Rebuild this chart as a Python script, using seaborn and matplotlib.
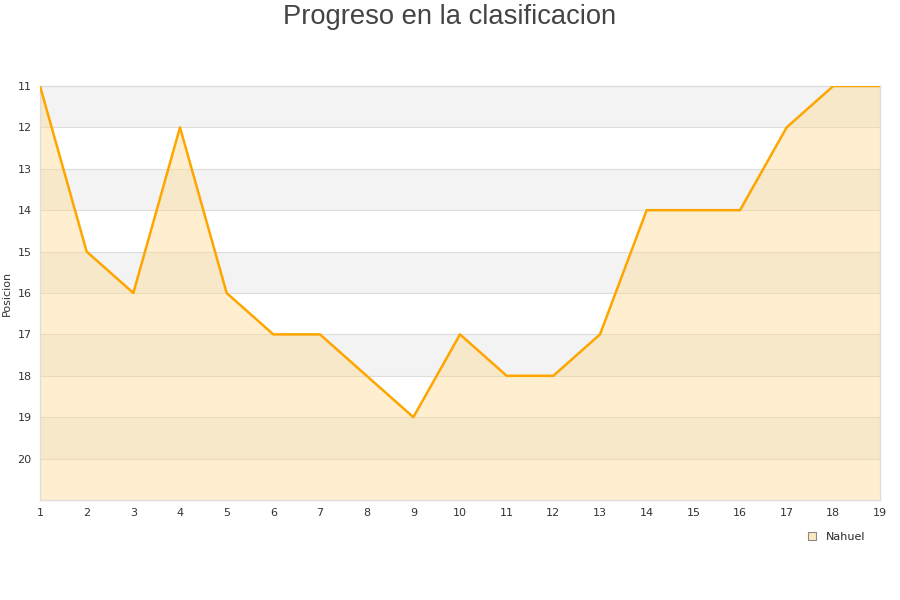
import matplotlib
matplotlib.use("Agg")
import matplotlib.pyplot as plt
import seaborn as sns
import pandas as pd
from matplotlib.lines import Line2D

jornadas = list(range(1, 20))
posiciones = [11, 15, 16, 12, 16, 17, 17, 18, 19, 17, 18, 18, 17, 14, 14, 14, 12, 11, 11]
serie = "Nahuel"
yticks = list(range(11, 21))

sns.set_theme(style="white")
plt.rcParams['font.family'] = ['DejaVu Sans']

df = pd.DataFrame({"Jornada": jornadas, "Posicion": posiciones})

fig = plt.figure(figsize=(9, 6), dpi=100)
ax = fig.add_axes([40/900, 100/600, 840/900, 414/600])

# alternating bands
for i, y0 in enumerate(range(11, 21)):
    if i % 2 == 0:
        ax.axhspan(y0, y0 + 1, color="#f3f3f3", zorder=0, lw=0)
for y0 in range(12, 21):
    ax.axhline(y0, color="#dddddd", lw=0.8, zorder=1)

ax.fill_between(df["Jornada"], df["Posicion"], 21, color="#ffd98a", alpha=0.4, lw=0, zorder=2)
sns.lineplot(data=df, x="Jornada", y="Posicion", color="#ffa500", lw=1.8, ax=ax, zorder=3)

ax.set_xlim(1, 19)
ax.set_ylim(21, 11)
ax.set_xticks(jornadas)
ax.set_yticks(yticks)
ax.tick_params(axis="both", labelsize=8, colors="#333333", length=0, pad=6)
ax.set_xlabel("")
ax.set_ylabel("Posicion", fontsize=8, color="#333333", labelpad=4)
for s in ax.spines.values():
    s.set_color("#dddddd")
    s.set_linewidth(1)

fig.text(0.5, 1 - 17/600, "Progreso en la clasificacion", fontsize=19.7, color="#444444",
         ha="center", va="center", family=["Liberation Sans", "DejaVu Sans"])

handle = Line2D([], [], marker="s", ls="", markersize=6, markerfacecolor="#fde9c0", markeredgecolor="#888888", markeredgewidth=0.8)
fig.legend([handle], [serie], loc="center", bbox_to_anchor=(833/900, 1 - 537/600), frameon=False, fontsize=8, handletextpad=0.3)

fig.savefig("out.png", dpi=100)
